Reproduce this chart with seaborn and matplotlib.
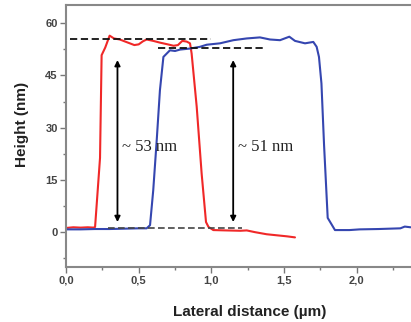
import matplotlib
matplotlib.use("Agg")
import matplotlib.pyplot as plt
import seaborn as sns
import pandas as pd

red_x = [0.0, 0.05, 0.10, 0.15, 0.19, 0.20, 0.21, 0.234, 0.245, 0.27, 0.30, 0.33, 0.37, 0.42,
         0.47, 0.50, 0.53, 0.555, 0.60, 0.646, 0.70, 0.74, 0.77, 0.80, 0.83, 0.853, 0.864, 0.899,
         0.933, 0.963, 0.98, 1.013, 1.10, 1.20, 1.243, 1.30, 1.38, 1.45, 1.52, 1.575]
red_y = [1.2, 1.4, 1.3, 1.4, 1.3, 1.5, 7.3, 21.3, 50.8, 53.0, 56.4, 55.6, 55.3, 54.5,
         53.7, 53.9, 54.8, 55.3, 54.9, 54.4, 53.9, 53.5, 53.7, 54.9, 54.7, 54.2, 51.3, 36.0,
         16.8, 2.9, 1.5, 0.6, 0.5, 0.4, 0.5, 0.0, -0.6, -0.9, -1.2, -1.5]

blue_x = [0.0, 0.1, 0.2, 0.3, 0.4, 0.5, 0.555, 0.578, 0.60, 0.624, 0.646, 0.67, 0.715,
          0.75, 0.784, 0.853, 0.922, 0.968, 1.059, 1.151, 1.243, 1.334, 1.403, 1.472, 1.536,
          1.575, 1.644, 1.701, 1.724, 1.74, 1.757, 1.775, 1.80, 1.85, 1.95, 2.02, 2.15, 2.30,
          2.33, 2.37]
blue_y = [0.8, 0.8, 0.9, 0.9, 1.0, 1.1, 1.1, 2.0, 12.0, 26.4, 40.7, 50.3, 52.2,
          52.0, 52.4, 52.7, 53.2, 53.8, 54.2, 55.1, 55.6, 55.9, 55.3, 55.1, 56.1,
          54.9, 54.2, 54.6, 53.2, 50.3, 42.7, 25.0, 4.1, 0.6, 0.6, 0.8, 0.9, 1.1,
          1.6, 1.4]

x_ticks = [0.0, 0.5, 1.0, 1.5, 2.0]
x_tick_labels = ["0,0", "0,5", "1,0", "1,5", "2,0"]
y_ticks = [0, 15, 30, 45, 60]

# reference levels and annotations
top_levels = [(55.3, 0.03, 1.0), (53.0, 0.635, 1.37)]
bottom_level = (1.1, 0.29, 1.21)
arrows = [(0.354, "~ 53 nm"), (1.15, "~ 51 nm")]
arrow_y = (2.9, 49.4)

sns.set_theme(style="white")
plt.rcParams['font.family'] = ['Liberation Sans', 'DejaVu Sans']

fig = plt.figure(figsize=(4.11, 3.22), dpi=100)
ax = fig.add_axes([66/411, 1 - 267/322, 1 - 66/411, (267 - 5)/322])

df_r = pd.DataFrame({"x": red_x, "y": red_y})
df_b = pd.DataFrame({"x": blue_x, "y": blue_y})
sns.lineplot(data=df_r, x="x", y="y", ax=ax, color="#f02828", linewidth=1.5)
sns.lineplot(data=df_b, x="x", y="y", ax=ax, color="#3546b0", linewidth=1.5)

for y, x0, x1 in top_levels:
    ax.plot([x0, x1], [y, y], color="#111111", lw=1.3, ls=(0, (4, 2)))
y, x0, x1 = bottom_level
ax.plot([x0, x1], [y, y], color="#444444", lw=1.2, ls=(0, (4, 2)))

for xa, label in arrows:
    ax.annotate("", xy=(xa, arrow_y[1]), xytext=(xa, arrow_y[0]),
                arrowprops=dict(arrowstyle="<|-|>", color="black", lw=1.3,
                                mutation_scale=8, shrinkA=0, shrinkB=0))
    ax.text(xa + 0.03, 24.5, label, family="Liberation Serif", fontsize=12,
            color="#222222", va="center", ha="left")

ax.set_xlim(0, 2.373)
ax.set_ylim(-10, 65.2)
ax.set_xticks(x_ticks)
ax.set_xticklabels(x_tick_labels)
ax.set_yticks(y_ticks)
ax.set_xticks([0.25, 0.75, 1.25, 1.75, 2.25], minor=True)
ax.set_yticks([-7.5, 7.5, 22.5, 37.5, 52.5], minor=True)

ax.tick_params(axis="both", which="major", direction="out", length=4, width=1,
               color="#777777", labelsize=8, labelcolor="#444444", pad=2,
               left=True, bottom=True)
ax.tick_params(axis="both", which="minor", direction="out", length=2.5, width=1,
               color="#777777", left=True, bottom=True)
for lab in ax.get_xticklabels() + ax.get_yticklabels():
    lab.set_fontweight("bold")

for s in ["left", "bottom", "top"]:
    ax.spines[s].set_color("#888888")
    ax.spines[s].set_linewidth(1.5)
ax.spines["right"].set_visible(False)

ax.set_xlabel("Lateral distance (µm)", fontsize=11, fontweight="bold", color="#222222")
ax.set_ylabel("Height (nm)", fontsize=11, fontweight="bold", color="#222222")
ax.xaxis.set_label_coords((250 - 66) / 345, -(305 - 267) / 262)
ax.yaxis.set_label_coords((29 - 66) / 345, (267 - 124) / 262)

fig.savefig("out.png", dpi=100)
